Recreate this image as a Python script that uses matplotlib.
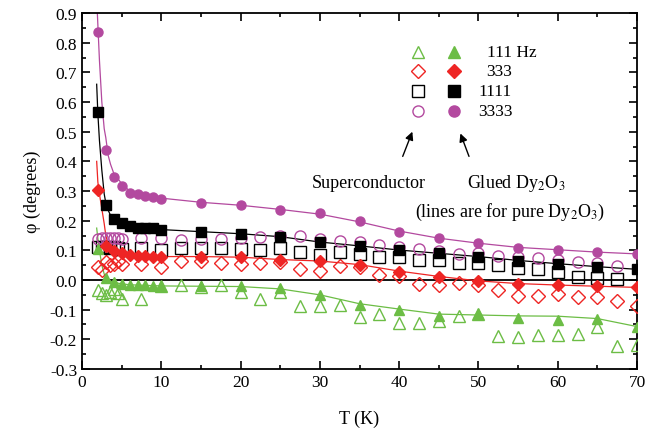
import numpy as np
import matplotlib
matplotlib.use("Agg")
import matplotlib.pyplot as plt

plt.rcParams['font.family'] = ['Liberation Serif', 'DejaVu Serif']
plt.rcParams['mathtext.fontset'] = 'stix'

# superconductor (open symbols)
t_sc = [2, 2.5, 3, 3.5, 4, 4.5, 5, 7.5, 10, 12.5, 15, 17.5, 20, 22.5, 25, 27.5, 30,
        32.5, 35, 37.5, 40, 42.5, 45, 47.5, 50, 52.5, 55, 57.5, 60, 62.5, 65, 67.5, 70]
sc_3333 = [0.138, 0.14, 0.142, 0.14, 0.142, 0.14, 0.138, 0.140, 0.140, 0.135, 0.138, 0.138,
           0.140, 0.145, 0.148, 0.149, 0.138, 0.132, 0.127, 0.117, 0.110, 0.104, 0.098, 0.089,
           0.090, 0.082, 0.076, 0.074, 0.068, 0.060, 0.056, 0.048, np.nan]
sc_1111 = [0.110, 0.112, 0.110, 0.108, 0.110, 0.108, 0.105, 0.109, 0.101, 0.109, 0.108, 0.107,
           0.105, 0.100, 0.108, 0.093, 0.085, 0.093, 0.087, 0.076, 0.079, 0.068, 0.068, 0.058,
           0.056, 0.049, 0.039, 0.038, 0.028, 0.011, 0.006, 0.005, np.nan]
sc_333 = [0.045, 0.035, 0.060, 0.050, 0.055, 0.065, 0.055, 0.054, 0.045, 0.065, 0.065, 0.058,
          0.055, 0.058, 0.060, 0.037, 0.031, 0.046, 0.043, 0.018, 0.015, -0.012, -0.017, -0.009,
          -0.017, -0.034, -0.055, -0.055, -0.047, -0.056, -0.058, -0.072, -0.087]
sc_111 = [-0.035, -0.045, -0.050, -0.040, -0.030, -0.045, -0.065, -0.064, -0.020, -0.016, -0.025,
          -0.016, -0.042, -0.064, -0.042, -0.089, -0.089, -0.084, -0.126, -0.115, -0.146, -0.146,
          -0.137, -0.120, -0.115, -0.188, -0.191, -0.185, -0.185, -0.183, -0.160, -0.221, -0.219]

# glued Dy2O3 (filled symbols)
t_gl = [2, 3, 4, 5, 6, 7, 8, 9, 10, 15, 20, 25, 30, 35, 40, 45, 50, 55, 60, 65, 70]
gl_3333 = [0.836, 0.438, 0.346, 0.316, 0.295, 0.289, 0.284, 0.281, 0.273, 0.260, 0.252, 0.236,
           0.225, 0.199, 0.163, 0.140, 0.124, 0.108, 0.102, 0.093, 0.088]
gl_1111 = [0.565, 0.253, 0.206, 0.191, 0.183, 0.177, 0.175, 0.174, 0.170, 0.163, 0.156, 0.146,
           0.127, 0.114, 0.100, 0.090, 0.079, 0.065, 0.054, 0.043, 0.037]
gl_333 = [0.304, 0.116, 0.097, 0.091, 0.083, 0.080, 0.080, 0.079, 0.079, 0.079, 0.078, 0.068,
          0.065, 0.052, 0.028, 0.011, -0.004, -0.013, -0.017, -0.020, -0.025]
gl_111 = [0.105, 0.006, -0.006, -0.013, -0.016, -0.017, -0.018, -0.019, -0.020, -0.020, -0.021,
          -0.028, -0.050, -0.084, -0.101, -0.120, -0.115, -0.129, -0.134, -0.131, -0.157]

# pure Dy2O3 (lines)
t_line = [1.85, 2.0, 2.2, 2.5, 2.8, 3.0, 3.3, 3.6, 4, 5, 6, 8, 10, 15, 20, 25, 30, 35, 40, 45,
          50, 55, 60, 65, 70]
ln_3333 = [0.95, 0.86, 0.74, 0.60, 0.51, 0.48, 0.42, 0.39, 0.36, 0.325, 0.30, 0.285, 0.276,
           0.262, 0.252, 0.238, 0.222, 0.196, 0.165, 0.141, 0.124, 0.110, 0.102, 0.094, 0.088]
ln_1111 = [0.66, 0.56, 0.47, 0.37, 0.29, 0.26, 0.235, 0.218, 0.205, 0.19, 0.182, 0.175, 0.170,
           0.163, 0.156, 0.146, 0.128, 0.115, 0.101, 0.090, 0.079, 0.066, 0.055, 0.045, 0.036]
ln_333 = [0.40, 0.33, 0.29, 0.24, 0.19, 0.15, 0.12, 0.105, 0.097, 0.090, 0.085, 0.080, 0.079,
          0.079, 0.077, 0.069, 0.064, 0.052, 0.030, 0.012, -0.003, -0.012, -0.017, -0.021, -0.025]
ln_111 = [0.175, 0.14, 0.10, 0.05, 0.02, 0.01, 0.0, -0.004, -0.008, -0.013, -0.016, -0.018,
          -0.020, -0.021, -0.022, -0.030, -0.050, -0.080, -0.098, -0.115, -0.118, -0.121, -0.122,
          -0.130, -0.157]

green = '#6cbd45'
red = '#ee2524'
black = '#000000'
magenta = '#b3499f'

series = [
    ('111 Hz', green, '^', sc_111, gl_111, ln_111),
    ('333', red, 'D', sc_333, gl_333, ln_333),
    ('1111', black, 's', sc_1111, gl_1111, ln_1111),
    ('3333', magenta, 'o', sc_3333, gl_3333, ln_3333),
]

fig = plt.figure(figsize=(6.7, 4.39), dpi=100)
ax = fig.add_axes([0.1224, 0.1572, 0.8284, 0.8108])

ax.axhline(0, color='black', lw=1.3, zorder=1)

for name, c, m, sc, gl, ln in series:
    ms_open = 7 if m == 'D' else 8
    ax.plot(t_line, ln, '-', color=c, lw=0.9, zorder=2)
    ax.plot(t_sc, sc, ls='none', marker=m, ms=ms_open, mfc='none', mec=c, mew=1.0, zorder=3)
    ax.plot(t_gl, gl, ls='none', marker=m, ms=6.5 if m != 'D' else 6, mfc=c, mec=c, zorder=4)

ax.set_xlim(0, 70)
ax.set_ylim(-0.3, 0.9)
ax.set_xticks(np.arange(0, 71, 10))
ax.set_xticks(np.arange(0, 71, 5), minor=True)
ax.set_yticks(np.arange(-0.3, 0.91, 0.1))
ax.set_yticks(np.arange(-0.3, 0.91, 0.05), minor=True)
ax.yaxis.set_major_formatter(plt.FuncFormatter(lambda v, p: f'{v:.1f}'))
ax.tick_params(which='both', direction='in', top=True, right=True, labelsize=12.5, width=1.2)
ax.tick_params(which='major', length=6)
ax.tick_params(which='minor', length=3)
for s in ax.spines.values():
    s.set_linewidth(1.3)

ax.set_xlabel('T (K)', fontsize=13, labelpad=14)
ax.set_ylabel('φ (degrees)', fontsize=13, labelpad=6)

# symbol key
rows_y = [0.891, 0.836, 0.780, 0.726]
label_x = [0.729, 0.729, 0.714, 0.714]
for (name, c, m, sc, gl, ln), yy, lx in zip(series, rows_y, label_x):
    ax.plot([0.605], [yy], ls='none', marker=m, ms=8 if m != 'D' else 7, mfc='none', mec=c,
            mew=1.0, transform=ax.transAxes, clip_on=False)
    ax.plot([0.670], [yy], ls='none', marker=m, ms=8 if m != 'D' else 7.5, mfc=c, mec=c,
            transform=ax.transAxes, clip_on=False)
    ax.text(lx, yy, name, transform=ax.transAxes, fontsize=12.5, va='center', ha='left')

ax.annotate('', xy=(0.597, 0.674), xytext=(0.576, 0.590), xycoords='axes fraction',
            arrowprops=dict(arrowstyle='-|>', color='black', lw=1.0, mutation_scale=12))
ax.annotate('', xy=(0.680, 0.669), xytext=(0.699, 0.590), xycoords='axes fraction',
            arrowprops=dict(arrowstyle='-|>', color='black', lw=1.0, mutation_scale=12))

ax.text(0.414, 0.525, 'Superconductor', transform=ax.transAxes, fontsize=13, va='center')
ax.text(0.694, 0.525, 'Glued Dy$_2$O$_3$', transform=ax.transAxes, fontsize=13, va='center')
ax.text(0.600, 0.444, '(lines are for pure Dy$_2$O$_3$)', transform=ax.transAxes, fontsize=13,
        va='center')

fig.savefig('out.png', dpi=100)
